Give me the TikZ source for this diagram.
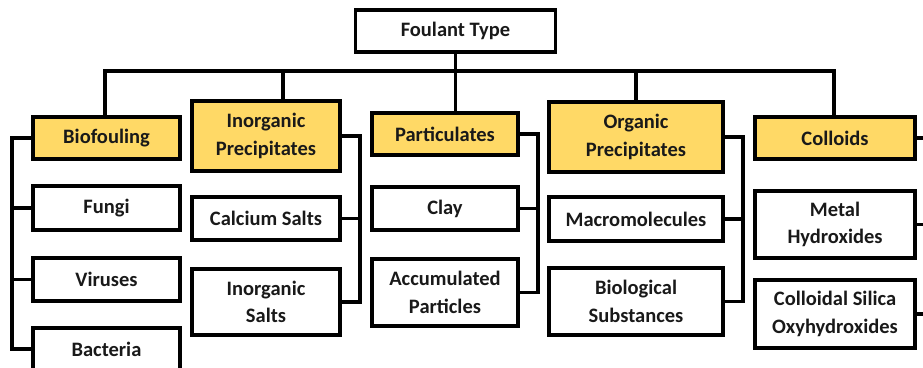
\documentclass[tikz,border=0pt]{standalone}
\usepackage{fontspec}
\setmainfont{Carlito}
\definecolor{gold}{HTML}{FFD966}
\begin{document}
\begin{tikzpicture}[x=1pt,y=-1pt,
  box/.style={draw=black,line width=3.2pt,fill=white,rectangle,inner sep=0pt,
    align=center,font=\fontsize{20.5}{27.5}\selectfont\bfseries,text=black!90},
  cat/.style={box,fill=gold},
  link/.style={line width=3.2pt,line cap=rect}]
\useasboundingbox (0,0) rectangle (923,367);
% root
\node[box,minimum width=200,minimum height=42] (ft) at (455.5,31) {Foulant Type};
% categories
\node[cat,minimum width=147,minimum height=42] (bio) at (106.5,138) {Biofouling};
\node[cat,minimum width=148,minimum height=70] (inp) at (266,136) {Inorganic\\Precipitates};
\node[cat,minimum width=146,minimum height=42] (part) at (445,134) {Particulates};
\node[cat,minimum width=174,minimum height=70] (org) at (636,137) {Organic\\Precipitates};
\node[cat,minimum width=160,minimum height=42] (col) at (835,138) {Colloids};
% children
\node[box,minimum width=147,minimum height=44] (fungi) at (106.5,208) {Fungi};
\node[box,minimum width=147,minimum height=43] (vir) at (106.5,279.5) {Viruses};
\node[box,minimum width=147,minimum height=42] (bac) at (106.5,349) {Bacteria};
\node[box,minimum width=148,minimum height=43] (cal) at (266,218.5) {Calcium Salts};
\node[box,minimum width=148,minimum height=66] (ins) at (266,302) {Inorganic\\Salts};
\node[box,minimum width=146,minimum height=43] (clay) at (445,208.5) {Clay};
\node[box,minimum width=146,minimum height=67] (acc) at (445,292.5) {Accumulated\\Particles};
\node[box,minimum width=174,minimum height=44] (mac) at (636,219) {Macromolecules};
\node[box,minimum width=174,minimum height=67] (bs) at (636,301.5) {Biological\\Substances};
\node[box,minimum width=160,minimum height=67] (met) at (835,224.5) {Metal\\Hydroxides};
\node[box,minimum width=160,minimum height=68] (sil) at (835,314) {Colloidal Silica\\Oxyhydroxides};
% bus
\coordinate (bL) at (105,71);
\coordinate (bR) at (834,71);
\coordinate (bI) at (283,71);
\draw[link] (bL) -- (bR);
\draw[link] (ft.south) -- (ft.south |- part.north);
\draw[link] (bL) -- (bL |- bio.north);
\draw[link] (bI) -- (bI |- inp.north);
\draw[link] (org.north |- bL) -- (org.north);
\draw[link] (bR) -- (bR |- col.north);
% brackets
\coordinate (xb) at (12,0);
\coordinate (xi) at (360,0);
\coordinate (xp) at (538,0);
\coordinate (xo) at (743,0);
\coordinate (xc) at (940,0);
\draw[link] (bio.west) -- (bio.west -| xb) -- (bac.west -| xb) -- (bac.west);
\draw[link] (fungi.west) -- (fungi.west -| xb);
\draw[link] (vir.west) -- (vir.west -| xb);
\draw[link] (inp.east) -- (inp.east -| xi) -- (ins.east -| xi) -- (ins.east);
\draw[link] (cal.east) -- (cal.east -| xi);
\draw[link] (part.east) -- (part.east -| xp) -- (acc.east -| xp) -- (acc.east);
\draw[link] (clay.east) -- (clay.east -| xp);
\draw[link] (org.east) -- (org.east -| xo) -- (bs.east -| xo) -- (bs.east);
\draw[link] (mac.east) -- (mac.east -| xo);
\draw[link] (col.east) -- (col.east -| xc);
\draw[link] (met.east) -- (met.east -| xc);
\draw[link] (sil.east) -- (sil.east -| xc);
\end{tikzpicture}
\end{document}
